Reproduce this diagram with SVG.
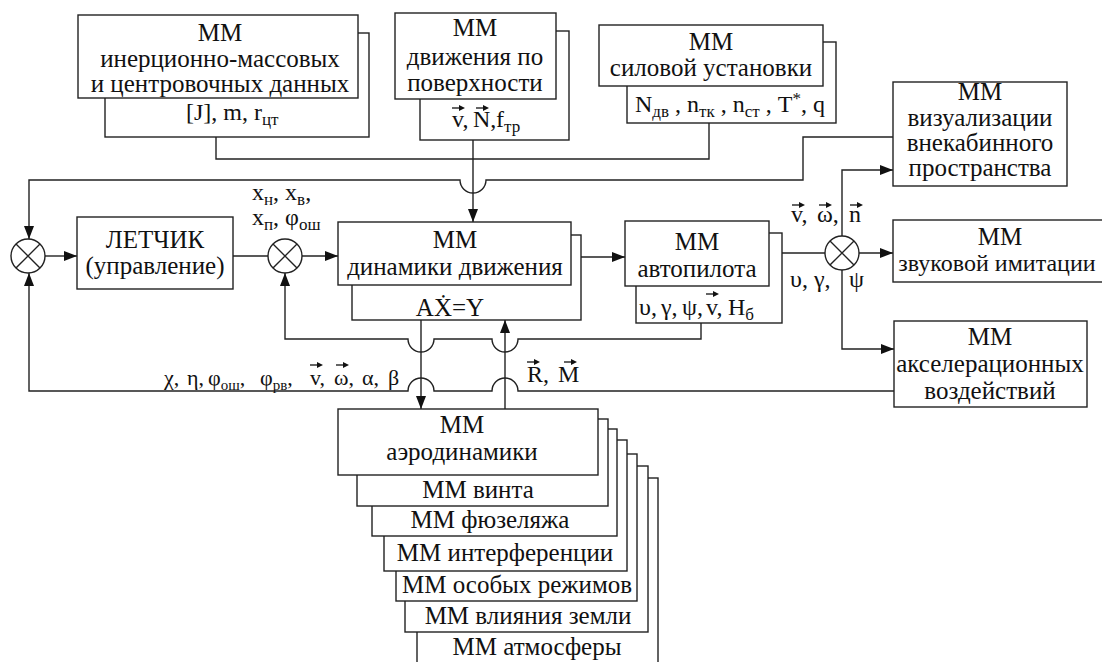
<svg xmlns="http://www.w3.org/2000/svg" xmlns:xlink="http://www.w3.org/1999/xlink" width="1102" height="662" viewBox="0 0 1102 662" font-family="Liberation Serif, Times New Roman, DejaVu Serif, serif">
<defs>
<style>
.b{fill:#fff;stroke:#222;stroke-width:1.4}
.l{fill:none;stroke:#222;stroke-width:1.4}
.t{font-size:25px;fill:#111;text-anchor:middle}
.s{font-size:24px;fill:#111}
.sub{font-size:17px}
.s2{font-size:22px;fill:#111}
.sub2{font-size:15px}
</style>
<marker id="ah" markerUnits="userSpaceOnUse" markerWidth="14" markerHeight="10" refX="13" refY="5" orient="auto">
<path d="M0,0 L13,5 L0,10 z" fill="#111"/>
</marker>
<g id="vec"><path d="M-6,0 H3" stroke="#111" stroke-width="1.3"/><path d="M1,-3 L7,0 L1,3 z" fill="#111"/></g>
<g id="sj"><circle cx="0" cy="0" r="17" fill="#fff" stroke="#222" stroke-width="1.4"/><path d="M-12,-12 L12,12 M12,-12 L-12,12" stroke="#222" stroke-width="1.4"/></g>
</defs>
<rect width="1102" height="662" fill="#fff"/>

<g id="connectors">
<path class="l" d="M216,137 V159 H709 V123"/>
<path class="l" d="M473,140 V222" marker-end="url(#ah)"/>
<path class="l" d="M893,137 H803 V180 H486 A13,13 0 0,1 460,180 H29 V239" marker-end="url(#ah)"/>
<path class="l" d="M45,256 H77" marker-end="url(#ah)"/>
<path class="l" d="M233,256 H268"/>
<path class="l" d="M302,256 H338" marker-end="url(#ah)"/>
<path class="l" d="M581,257 H625" marker-end="url(#ah)"/>
<path class="l" d="M782,253 H825"/>
<path class="l" d="M859,253 H893" marker-end="url(#ah)"/>
<path class="l" d="M842,236 V170 H893" marker-end="url(#ah)"/>
<path class="l" d="M842,270 V349 H894" marker-end="url(#ah)"/>
<path class="l" d="M701,323 V339 H518 A13,13 0 0,1 492,339 H434 A13,13 0 0,1 408,339 H285 V273" marker-end="url(#ah)"/>
<path class="l" d="M894,391 H518 A13,13 0 0,0 492,391 H434 A13,13 0 0,0 408,391 H29 V273" marker-end="url(#ah)"/>
<path class="l" d="M421,320 V409" marker-end="url(#ah)"/>
<path class="l" d="M505,409 V320" marker-end="url(#ah)"/>
</g>

<g id="sum1"><use xlink:href="#sj" x="28" y="256"/></g>
<g id="sum2"><use xlink:href="#sj" x="285" y="256"/></g>
<g id="sum3"><use xlink:href="#sj" x="842" y="253"/></g>

<g id="mm-inertia">
<rect class="b" x="105" y="33" width="264" height="104"/>
<rect class="b" x="78" y="15" width="280" height="83"/>
<text class="t" x="220" y="41">ММ</text>
<text class="t" x="220" y="67">инерционно-массовых</text>
<text class="t" x="220" y="92">и центровочных данных</text>
<text class="s" x="186" y="120">[J], m, r<tspan class="sub" dy="5">цт</tspan></text>
</g>

<g id="mm-surface">
<rect class="b" x="420" y="31" width="149" height="109"/>
<rect class="b" x="395" y="13" width="161" height="86"/>
<text class="t" x="475" y="36">ММ</text>
<text class="t" x="475" y="65">движения по</text>
<text class="t" x="475" y="91">поверхности</text>
<text class="s" y="127"><tspan x="452">v,</tspan><tspan x="473">N,</tspan><tspan x="496">f</tspan><tspan class="sub" dy="5">тр</tspan></text>
<use xlink:href="#vec" x="458" y="108"/>
<use xlink:href="#vec" x="482" y="108"/>
</g>

<g id="mm-powerplant">
<rect class="b" x="627" y="42" width="209" height="81"/>
<rect class="b" x="599" y="25" width="224" height="61"/>
<text class="t" x="711" y="50">ММ</text>
<text class="t" x="711" y="76">силовой установки</text>
<text class="s" x="635" y="112">N<tspan class="sub" dy="5">дв</tspan><tspan dy="-5"> , n</tspan><tspan class="sub" dy="5">тк</tspan><tspan dy="-5"> , n</tspan><tspan class="sub" dy="5">ст</tspan><tspan dy="-5"> , T</tspan><tspan class="sub" dy="-8">*</tspan><tspan dy="8">, q</tspan></text>
</g>

<g id="mm-visual">
<rect class="b" x="893" y="82" width="174" height="104"/>
<text class="t" x="980" y="100">ММ</text>
<text class="t" x="980" y="126">визуализации</text>
<text class="t" x="980" y="151">внекабинного</text>
<text class="t" x="980" y="176">пространства</text>
</g>

<g id="mm-sound">
<rect class="b" x="893" y="220" width="240" height="62"/>
<text class="t" x="1000" y="245">ММ</text>
<text class="t" x="997" y="271" style="font-size:24px">звуковой имитации</text>
</g>

<g id="mm-accel">
<rect class="b" x="894" y="321" width="193" height="86"/>
<text class="t" x="990" y="345">ММ</text>
<text class="t" x="990" y="372">акселерационных</text>
<text class="t" x="990" y="399">воздействий</text>
</g>

<g id="pilot">
<rect class="b" x="77" y="217" width="156" height="72"/>
<text class="t" x="155" y="248">ЛЕТЧИК</text>
<text class="t" x="155" y="274">(управление)</text>
</g>

<g id="mm-dynamics">
<rect class="b" x="352" y="235" width="229" height="85"/>
<rect class="b" x="338" y="222" width="233" height="63"/>
<text class="t" x="455" y="248">ММ</text>
<text class="t" x="455" y="275">динамики движения</text>
<text class="t" x="450" y="316">AẊ=Y</text>
</g>

<g id="mm-autopilot">
<rect class="b" x="636" y="233" width="146" height="90"/>
<rect class="b" x="625" y="221" width="144" height="65"/>
<text class="t" x="697" y="250">ММ</text>
<text class="t" x="697" y="277">автопилота</text>
<text class="s" y="315"><tspan x="639">υ,</tspan><tspan x="661">γ,</tspan><tspan x="682">ψ,</tspan><tspan x="706">v,</tspan><tspan x="728">H</tspan><tspan class="sub" dy="5">б</tspan></text>
<use xlink:href="#vec" x="712" y="294"/>
</g>

<g id="mm-aero-stack">
<rect class="b" x="417" y="478" width="241" height="200"/>
<text class="t" x="537" y="655">ММ атмосферы</text>
<rect class="b" x="405" y="466" width="243" height="166"/>
<text class="t" x="528" y="624">ММ влияния земли</text>
<rect class="b" x="396" y="454" width="241" height="147"/>
<text class="t" x="517" y="593">ММ особых режимов</text>
<rect class="b" x="384" y="440" width="243" height="131"/>
<text class="t" x="505" y="561">ММ интерференции</text>
<rect class="b" x="372" y="429" width="245" height="107"/>
<text class="t" x="490" y="528">ММ фюзеляжа</text>
<rect class="b" x="357" y="419" width="251" height="87"/>
<text class="t" x="478" y="498">ММ винта</text>
<rect class="b" x="338" y="409" width="260" height="66"/>
<text class="t" x="462" y="433">ММ</text>
<text class="t" x="462" y="460">аэродинамики</text>
</g>

<g id="labels">
<text class="s" x="252" y="200">x<tspan class="sub" dy="5">н</tspan><tspan dy="-5">, x</tspan><tspan class="sub" dy="5">в</tspan><tspan dy="-5">,</tspan></text>
<text class="s" x="252" y="225">x<tspan class="sub" dy="5">п</tspan><tspan dy="-5">, φ</tspan><tspan class="sub" dy="5">ош</tspan></text>
<text class="s2" y="385"><tspan x="164">χ,</tspan><tspan x="187">η,</tspan><tspan x="208">φ</tspan><tspan class="sub2" dy="5">ош</tspan><tspan dy="-5">,</tspan><tspan x="260">φ</tspan><tspan class="sub2" dy="5">рв</tspan><tspan dy="-5">,</tspan><tspan x="310">v,</tspan><tspan x="334">ω,</tspan><tspan x="362">α,</tspan><tspan x="388">β</tspan></text>
<use xlink:href="#vec" x="316" y="365"/>
<use xlink:href="#vec" x="342" y="365"/>
<text class="s" y="382"><tspan x="527">R,</tspan><tspan x="558">M</tspan></text>
<use xlink:href="#vec" x="533" y="362"/>
<use xlink:href="#vec" x="570" y="362"/>
<text class="s" y="222"><tspan x="791">v,</tspan><tspan x="817">ω,</tspan><tspan x="849">n</tspan></text>
<use xlink:href="#vec" x="798" y="205"/>
<use xlink:href="#vec" x="825" y="205"/>
<use xlink:href="#vec" x="856" y="205"/>
<text class="s" y="287"><tspan x="790">υ, γ,</tspan><tspan x="849">ψ</tspan></text>
</g>
</svg>
